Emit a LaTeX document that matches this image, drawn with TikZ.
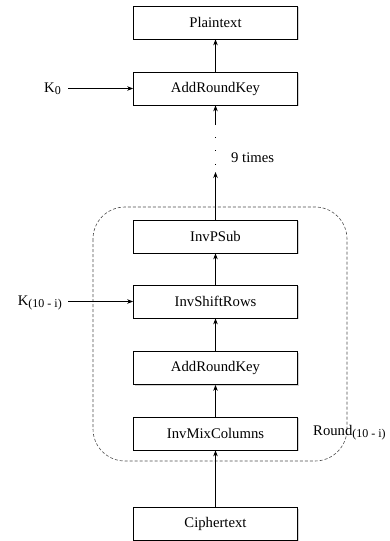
\documentclass[tikz,border=0pt]{standalone}
\usepackage{fontspec}
\setmainfont{Liberation Serif}
\usetikzlibrary{arrows.meta,shadows}
\newcommand{\lowsub}[1]{\raisebox{-0.3ex}{\fontsize{12}{14}\selectfont #1}}
\begin{document}
\begin{tikzpicture}[x=1pt,y=-1pt,
  font=\fontsize{14.7}{17}\selectfont,
  stage/.style={draw, fill=white, line width=0.7pt, minimum width=164pt, minimum height=33pt, inner sep=0pt,
    drop shadow={shadow xshift=1.2pt, shadow yshift=-1.2pt, opacity=0.35}},
  flow/.style={-{Stealth[length=6pt,width=4.5pt]}, line width=0.7pt},
  keylbl/.style={anchor=east, inner sep=0pt},
  gap/.style={line width=0.9pt, dash pattern=on 0.9pt off 12.5pt}
]
\useasboundingbox (0,0) rectangle (390,541);
% dashed round box
\draw[line width=0.6pt, gray!60!black, dash pattern=on 3pt off 2pt, rounded corners=32pt] (93,207) rectangle (347,461);
\node[anchor=west, inner sep=0pt] (round) at (313,433) {Round\lowsub{(10 - i)}};

\node[stage] (plain) at (215.5,22.5) {Plaintext};
\node[stage] (ark1) at (215.5,88.5) {AddRoundKey};
\node[stage] (psub) at (215.5,236.5) {InvPSub};
\node[stage] (shift) at (215.5,301.5) {InvShiftRows};
\node[stage] (ark2) at (215.5,368) {AddRoundKey};
\node[stage] (mix) at (215.5,433.5) {InvMixColumns};
\node[stage] (cipher) at (215.5,524) {Ciphertext};

\coordinate (up1) at (215.5,172);
\coordinate (up2) at (215.5,125);
\coordinate (d1) at (215.5,137);
\coordinate (d2) at (215.5,164);
\node[anchor=west, inner sep=0pt] (times) at (231,158) {9 times};

\node[keylbl] (k0) at (61,89) {K\lowsub{0}};
\node[keylbl] (ki) at (62,303) {K\lowsub{(10 - i)}};
\coordinate (k0s) at (68,88.5);
\coordinate (kis) at (68,301.5);

\draw[flow] (cipher) -- (mix);
\draw[flow] (mix) -- (ark2);
\draw[flow] (ark2) -- (shift);
\draw[flow] (shift) -- (psub);
\draw[flow] (psub) -- (up1);
\draw[gap] (d1) -- (d2);
\draw[flow] (up2) -- (ark1);
\draw[flow] (ark1) -- (plain);
\draw[flow] (k0s) -- (ark1.west);
\draw[flow] (kis) -- (shift.west);
\end{tikzpicture}
\end{document}
